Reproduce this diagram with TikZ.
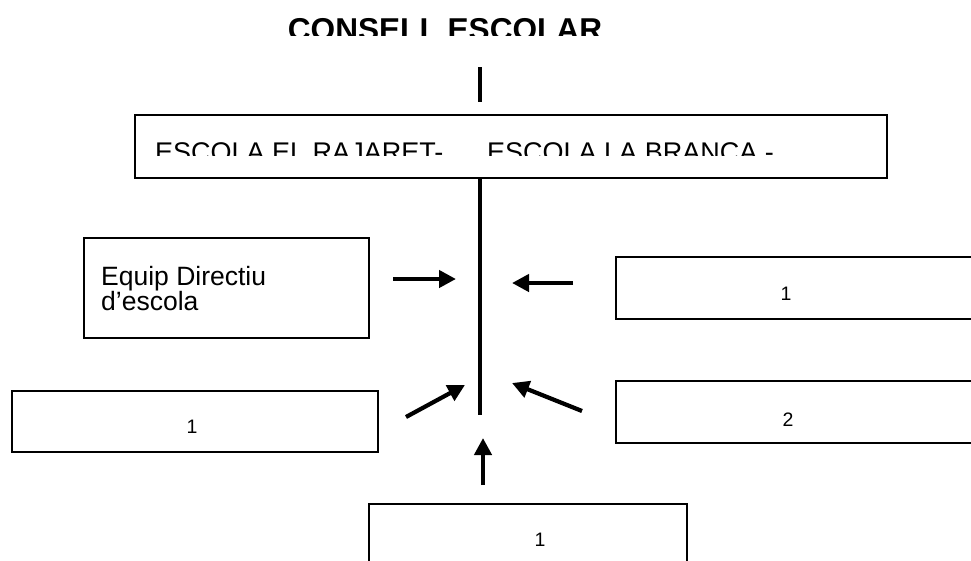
\documentclass[tikz,border=0pt]{standalone}
\usepackage{fontspec}
\setmainfont{Liberation Sans}
\usetikzlibrary{arrows.meta}
\begin{document}
\begin{tikzpicture}[x=1pt,y=-1pt,
  box/.style={draw=black,line width=1.7pt,rectangle,inner sep=0pt,anchor=north west},
  conn/.style={line width=4pt},
  arr/.style={line width=4.2pt,-{Triangle[length=17pt,width=17pt]}},
  lbl/.style={inner sep=0pt,anchor=base,font=\fontsize{19.5}{23}\selectfont},
  txt/.style={inner sep=0pt,anchor=base west}]
\useasboundingbox (0,0) rectangle (971,560);
\fill[white] (0,0) rectangle (971,560);
\clip (0,0) rectangle (971,560);

% boxes
\node[box,minimum width=752pt,minimum height=63pt] (school) at (134,114) {};
\node[box,minimum width=285pt,minimum height=100pt] (equip) at (83,237) {};
\node[box,minimum width=400pt,minimum height=62pt] (right1) at (615,256) {};
\node[box,minimum width=400pt,minimum height=62pt] (right2) at (615,380) {};
\node[box,minimum width=366pt,minimum height=61pt] (left1) at (11,390) {};
\node[box,minimum width=318pt,minimum height=80pt] (bottom) at (368,503) {};

% title (clipped)
\begin{scope}
\clip (0,0) rectangle (971,35);
\node[inner sep=0pt,anchor=base,font=\fontsize{31.6}{38}\selectfont\bfseries] (title) at (445,40.6) {CONSELL ESCOLAR};
\end{scope}

% school names (clipped)
\begin{scope}
\clip (0,0) rectangle (971,155);
\node[txt,font=\fontsize{27}{32}\selectfont] (rajaret) at (155,161) {ESCOLA EL RAJARET-};
\node[txt,font=\fontsize{27}{32}\selectfont] (branca) at (487,161) {ESCOLA LA BRANCA -};
\end{scope}

% equip text
\node[txt,font=\fontsize{26.5}{26.5}\selectfont] (equipA) at (101,285.7) {Equip Directiu};
\node[txt,font=\fontsize{26.5}{26.5}\selectfont] (equipB) at (101,310.7) {d’escola};

% numbers
\node[lbl] (n1) at (786,300) {1};
\node[lbl] (n2) at (788,426) {2};
\node[lbl] (n3) at (192,433) {1};
\node[lbl] (n4) at (540,546) {1};

% connectors
\coordinate (t1) at (480,67);
\coordinate (t2) at (480,102);
\draw[conn] (t1) -- (t2);
\coordinate (mend) at (479.5,415);
\draw[conn] (mend |- school.south) -- (mend);

\coordinate (a1s) at (393,279); \coordinate (a1e) at (456,279);
\coordinate (a2s) at (573,283); \coordinate (a2e) at (512,283);
\coordinate (a3s) at (406,417); \coordinate (a3e) at (465,385);
\coordinate (a4s) at (582,411); \coordinate (a4e) at (512,383);
\coordinate (a5s) at (483,485); \coordinate (a5e) at (483,438);
\draw[arr] (a1s) -- (a1e);
\draw[arr] (a2s) -- (a2e);
\draw[arr] (a3s) -- (a3e);
\draw[arr] (a4s) -- (a4e);
\draw[arr] (a5s) -- (a5e);
\end{tikzpicture}
\end{document}
